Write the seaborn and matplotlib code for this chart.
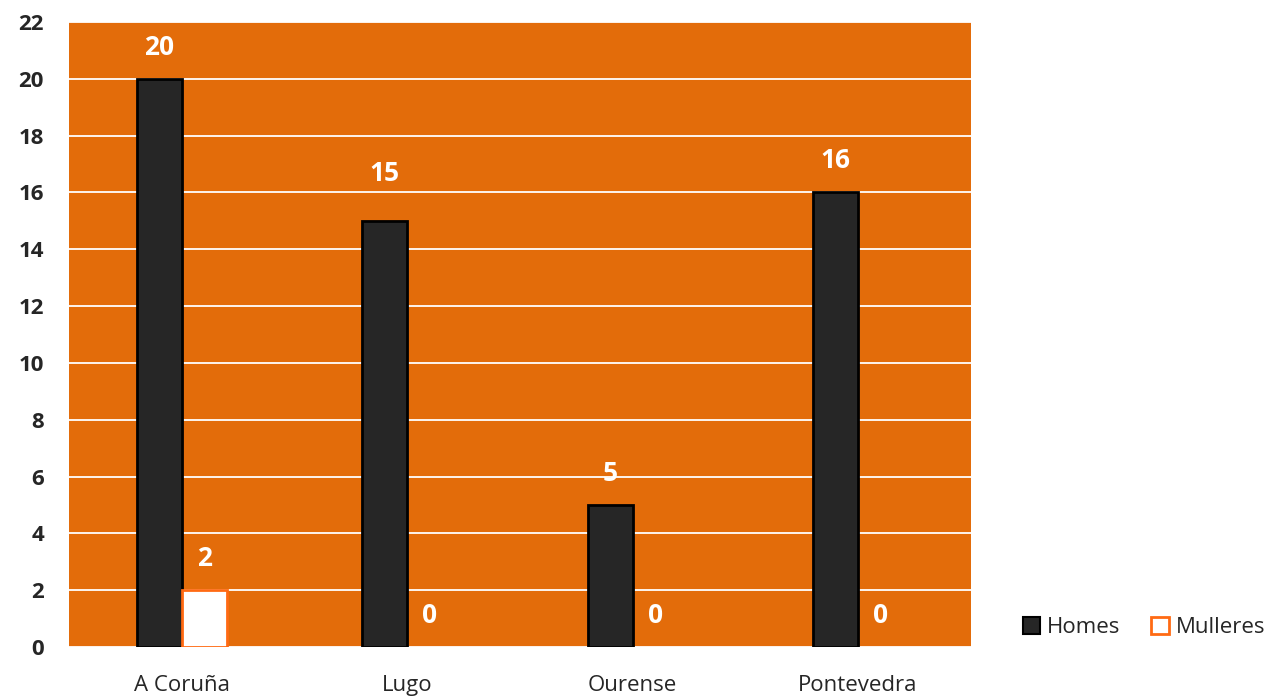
import numpy as np
import pandas as pd
import seaborn as sns
import matplotlib.pyplot as plt
from matplotlib.patches import Patch

provincias = ['A Coruña', 'Lugo', 'Ourense', 'Pontevedra']
homes = [20, 15, 5, 16]
mulleres = [2, 0, 0, 0]
series = ['Homes', 'Mulleres']
y_ticks = list(range(0, 23, 2))

ORANGE = '#E36C0A'
DARK = '#262626'

df = pd.DataFrame({
    'provincia': provincias * 2,
    'valor': homes + mulleres,
    'serie': ['Homes'] * len(provincias) + ['Mulleres'] * len(provincias),
})

sns.set_style('white')
plt.rcParams['font.family'] = ['Open Sans', 'DejaVu Sans']

fig = plt.figure(figsize=(12.82, 7.0), dpi=100)
ax = fig.add_axes([0.0538, 0.0757, 0.7035, 0.893])
ax.set_facecolor(ORANGE)

sns.barplot(data=df, x='provincia', y='valor', hue='serie', hue_order=series,
            palette={'Homes': DARK, 'Mulleres': 'white'}, width=0.4,
            saturation=1, legend=False, ax=ax, zorder=3)

edges = {'Homes': 'black', 'Mulleres': '#FF6A13'}
for cont, name in zip(ax.containers, series):
    for bar in cont:
        bar.set_edgecolor(edges[name])
        bar.set_linewidth(2 if bar.get_height() > 0 else 0)
    texts = ax.bar_label(cont, labels=[str(int(v)) for v in cont.datavalues], padding=13,
                         color='white', fontsize=19, fontweight='bold')
    # the Lugo label sits a little higher in the original
    if name == 'Homes':
        texts[1].xyann = (texts[1].xyann[0], texts[1].xyann[1] + 11)

ax.set_ylim(0, 22)
ax.set_xlim(-0.5, len(provincias) - 0.5)
ax.set_yticks(y_ticks)
ax.yaxis.grid(True, color='white', linewidth=1.3, zorder=1)
ax.set_axisbelow(True)
for s in ax.spines.values():
    s.set_visible(False)
ax.tick_params(axis='y', labelsize=16, length=0, pad=18)
ax.tick_params(axis='x', labelsize=16, length=0, pad=20)
for t in ax.get_yticklabels():
    t.set_fontweight('bold')
ax.set_xlabel('')
ax.set_ylabel('')

handles = [Patch(facecolor=DARK, edgecolor='black', linewidth=1.5),
           Patch(facecolor='white', edgecolor='#FF6A13', linewidth=2)]
fig.legend(handles, series, loc='center left', bbox_to_anchor=(0.782, 0.104),
           ncol=2, frameon=False, fontsize=16, handlelength=0.8, handleheight=0.8,
           handletextpad=0.3, columnspacing=1.4)

fig.savefig('out.png', dpi=100, facecolor='white')
